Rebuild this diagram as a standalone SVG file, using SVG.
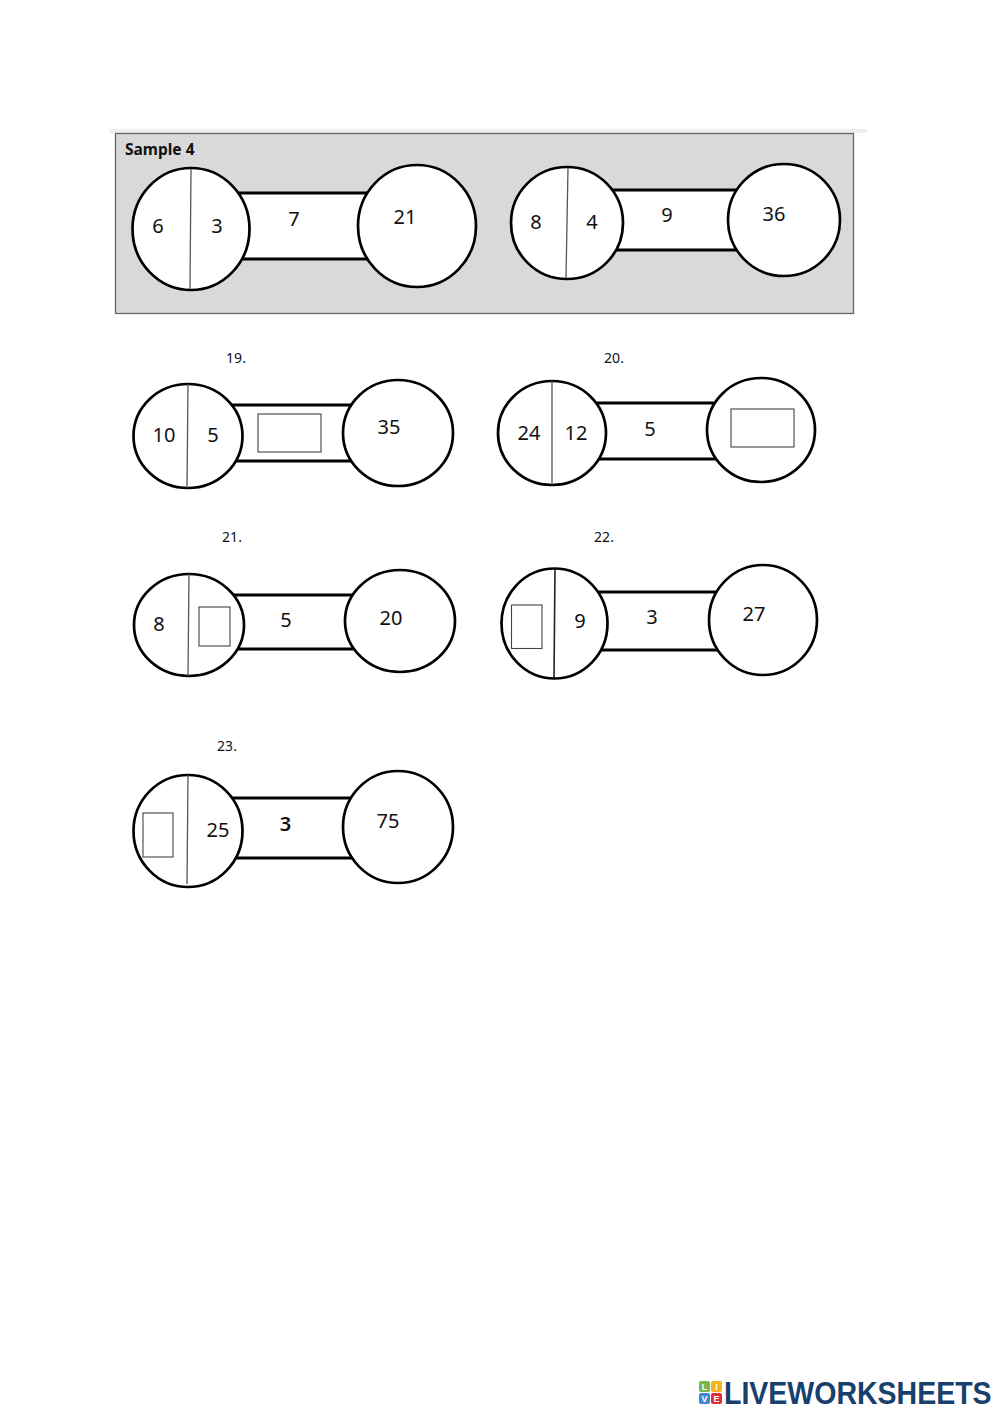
<svg xmlns="http://www.w3.org/2000/svg" width="1000" height="1413" viewBox="0 0 1000 1413">
<style>
.c{fill:#fff;stroke:#000;stroke-width:2.700}
.bar{fill:#fff;stroke:none}
.bl{stroke:#000;stroke-width:3;fill:none}
.d{stroke:#555;stroke-width:1.300}
.box{fill:#fff;stroke:#444;stroke-width:1.100}
.t{font-family:"Noto Sans","Liberation Sans",Arial,sans-serif;font-size:20px;fill:#111;text-anchor:middle}
.s{font-size:14px}
.lg{font-family:"Liberation Sans",Arial,sans-serif;font-size:9px;font-weight:700;fill:#fff;text-anchor:middle}
</style>
<rect width="1000" height="1413" fill="#fff"/>
<rect x="110" y="129" width="757" height="4" fill="#eee"/>
<rect id="panel" x="115.500" y="133.500" width="738" height="180" fill="#d9d9d9" stroke="#666" stroke-width="1.300"/>
<text class="t" x="125" y="155" style="text-anchor:start;font-size:15.500px;font-weight:700">Sample 4</text>
<g id="connectors">
<g><rect class="bar" x="235" y="193" width="135" height="66"/><path class="bl" d="M235 193H370M235 259H370"/></g>
<g><rect class="bar" x="610" y="190" width="130" height="60"/><path class="bl" d="M610 190H740M610 250H740"/></g>
<g><rect class="bar" x="230" y="405" width="125" height="56"/><path class="bl" d="M230 405H355M230 461H355"/></g>
<g><rect class="bar" x="595" y="403" width="125" height="56"/><path class="bl" d="M595 403H720M595 459H720"/></g>
<g><rect class="bar" x="232" y="595" width="125" height="54"/><path class="bl" d="M232 595H357M232 649H357"/></g>
<g><rect class="bar" x="595" y="592" width="125" height="58"/><path class="bl" d="M595 592H720M595 650H720"/></g>
<g><rect class="bar" x="230" y="798" width="125" height="60"/><path class="bl" d="M230 798H355M230 858H355"/></g>
</g>
<g id="s1"><ellipse class="c" cx="191" cy="229" rx="58.500" ry="61"/><line class="d" x1="191" y1="169" x2="190" y2="289"/><ellipse class="c" cx="417" cy="226" rx="59" ry="61"/>
<text class="t" x="158" y="233">6</text><text class="t" x="217" y="233">3</text><text class="t" x="294" y="226">7</text><text class="t" x="405" y="224">21</text></g>
<g id="s2"><ellipse class="c" cx="567" cy="223" rx="56" ry="56"/><line class="d" x1="568" y1="168" x2="566" y2="278"/><ellipse class="c" cx="784" cy="220" rx="56" ry="56"/>
<text class="t" x="536" y="229">8</text><text class="t" x="592" y="229">4</text><text class="t" x="667" y="222">9</text><text class="t" x="774" y="221">36</text></g>
<g id="q19"><text class="t s" x="236" y="363">19.</text><ellipse class="c" cx="188" cy="436" rx="54.500" ry="52"/><line class="d" x1="188" y1="384" x2="187" y2="488"/><ellipse class="c" cx="398" cy="433" rx="55" ry="53"/><rect class="box" x="258" y="414" width="63" height="38"/>
<text class="t" x="164" y="442">10</text><text class="t" x="213" y="442">5</text><text class="t" x="389" y="434">35</text></g>
<g id="q20"><text class="t s" x="614" y="363">20.</text><ellipse class="c" cx="552" cy="433" rx="54" ry="52"/><line class="d" x1="552" y1="381" x2="552" y2="485"/><ellipse class="c" cx="761" cy="430" rx="54" ry="52"/><rect class="box" x="731" y="409" width="63" height="38"/>
<text class="t" x="529" y="440">24</text><text class="t" x="576" y="440">12</text><text class="t" x="650" y="436">5</text></g>
<g id="q21"><text class="t s" x="232" y="542">21.</text><ellipse class="c" cx="189" cy="625" rx="55" ry="51"/><line class="d" x1="189" y1="574" x2="188" y2="676"/><ellipse class="c" cx="400" cy="621" rx="55" ry="51"/><rect class="box" x="199" y="607" width="31" height="39"/>
<text class="t" x="159" y="631">8</text><text class="t" x="286" y="627">5</text><text class="t" x="391" y="625">20</text></g>
<g id="q22"><text class="t s" x="604" y="542">22.</text><ellipse class="c" cx="554.500" cy="623.500" rx="53" ry="55"/><line x1="555" y1="569" x2="554" y2="678" stroke="#222" stroke-width="1.600"/><ellipse class="c" cx="763" cy="620" rx="54" ry="55"/><rect class="box" x="511.500" y="605" width="30.500" height="43.500"/>
<text class="t" x="580" y="628">9</text><text class="t" x="652" y="624">3</text><text class="t" x="754" y="621">27</text></g>
<g id="q23"><text class="t s" x="227" y="751">23.</text><ellipse class="c" cx="188" cy="831" rx="54.500" ry="56"/><line class="d" x1="188" y1="775" x2="187" y2="884"/><ellipse class="c" cx="398" cy="827" rx="55" ry="56"/><rect class="box" x="143" y="813" width="30" height="44"/>
<text class="t" x="218" y="837">25</text><text class="t" x="285.500" y="831" style="font-weight:600">3</text><text class="t" x="388" y="828">75</text></g>
<g id="logo">
<rect x="699" y="1381" width="11" height="11" rx="2" fill="#7ab648"/><rect x="711" y="1381" width="11" height="11" rx="2" fill="#f5b21a"/>
<rect x="699" y="1393" width="11" height="11" rx="2" fill="#3f87d6"/><rect x="711" y="1393" width="11" height="11" rx="2" fill="#e02b3c"/>
<text class="lg" x="704.500" y="1390">L</text><text class="lg" x="716.500" y="1390">I</text><text class="lg" x="704.500" y="1402">V</text><text class="lg" x="716.500" y="1402">E</text>
<text transform="translate(724 1403.500) scale(1 1.080)" font-family="'Liberation Sans',Arial,sans-serif" font-size="28.500" font-weight="700" fill="#17406d">LIVEWORKSHEETS</text>
</g>
</svg>
